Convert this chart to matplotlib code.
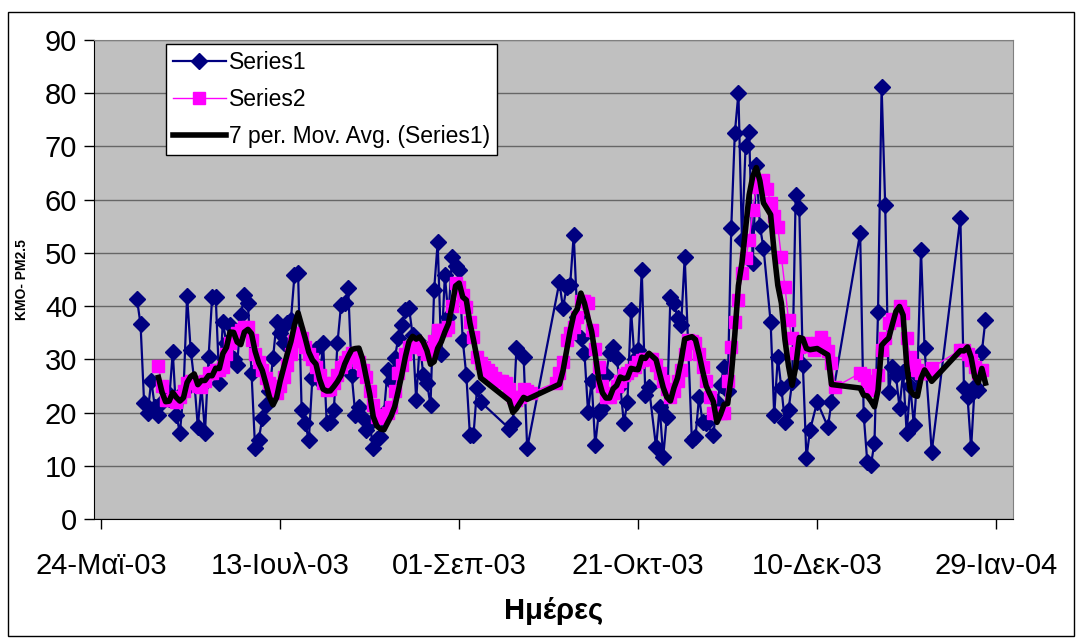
import matplotlib
matplotlib.use('Agg')
import matplotlib.pyplot as plt
from matplotlib.patches import Rectangle
import pandas as pd

plt.rcParams['font.family'] = ['Liberation Sans', 'DejaVu Sans']

# days counted from 24-May-2003
s1_day = [10, 11, 12, 13, 14, 15, 16, 17, 18, 19, 20, 21, 22, 23, 24, 25, 26, 27, 28, 29,
          30, 31, 32, 33, 34, 35, 36, 37, 38, 39, 40, 41, 42, 43, 44, 45, 46, 47, 48, 49,
          50, 51, 52, 53, 54, 55, 56, 57, 58, 59, 60, 61, 62, 63, 64, 65, 66, 67, 68, 69,
          70, 71, 72, 73, 74, 75, 76, 77, 78, 79, 80, 81, 82, 83, 84, 85, 86, 87, 88, 89,
          90, 91, 92, 93, 94, 95, 96, 97, 98, 99, 100, 101, 102, 103, 104, 105, 106,
          114, 115, 116, 118, 119,
          128, 129, 130, 131, 132, 133, 134, 135, 136, 137, 138, 139, 140, 141, 142, 143,
          144, 145, 146, 147, 148, 149, 150, 151, 152, 153, 155, 156, 157, 158, 159, 160,
          161, 162, 163, 165, 166, 167, 168, 169, 171, 172, 173, 174, 175, 176, 177, 178,
          179, 180, 181, 182, 183, 184, 185, 187, 188, 189, 190, 191, 192, 193, 194, 195,
          196, 197, 198, 200, 203, 204,
          212, 213, 214, 215, 216, 217, 218, 219, 220, 221, 222, 223, 224, 225, 226, 227,
          228, 229, 230, 232,
          240, 241, 242, 243, 244, 245, 246, 247]
s1_val = [41.3, 36.6, 21.8, 20, 26, 21, 19.5, 22, 24, 22.5, 31.4, 19.5, 16.2, 24, 41.9, 31.8, 26, 17.3, 25, 16.2,
          30.4, 41.7, 41.7, 25.6, 37, 33, 36.5, 30, 29, 38.3, 42, 40.6, 27.4, 13.3, 14.8, 19, 21.4, 24, 30.2, 37,
          35, 33, 36.8, 37.4, 45.8, 46.2, 20.5, 18, 14.8, 26.5, 32, 26, 33, 18, 18.2, 20.5, 33, 40.2, 40.6, 43.4,
          27, 19.5, 21, 19, 16.7, 18, 13.3, 15, 15.4, 20, 28, 26, 30.2, 34, 36.5, 39.3, 39.6, 34.6, 22.4, 33,
          27, 25.6, 21.4, 43, 52, 31, 45.8, 38, 49.2, 47.5, 46.8, 33.6, 27, 15.8, 15.8, 24.6, 22,
          17, 18, 32.1, 30.4, 13.3,
          44.5, 39.6, 43.6, 44, 53.4, 38, 34, 31.2, 20.1, 26, 13.9, 20, 20.9, 27, 31.2, 32.3,
          30.3, 25, 18, 22, 39.3, 30, 31.8, 46.8, 23.3, 24.8, 13.5, 21, 11.7, 19.2, 41.7, 40.6,
          37.8, 36.5, 49.2, 14.8, 15.4, 22.9, 18.2, 18, 15.8, 22, 25.2, 28.6, 24, 54.7, 72.5, 80,
          52.4, 70, 72.7, 48.1, 66.5, 55, 51, 37, 19.5, 30.4, 24.6, 18.2, 20.5, 25.7, 60.9, 58.4,
          29, 11.5, 16.7, 22, 17.3, 22,
          53.7, 19.5, 10.7, 10.1, 14.3, 38.9, 81.2, 59, 23.9, 28.6, 27, 20.9, 27.6, 16.2, 25, 17.7,
          27, 50.5, 32.1, 12.6,
          56.6, 24.6, 22.9, 13.3, 25, 24.2, 31.4, 37.4]

s2_day = list(range(16, 121)) + list(range(127, 206)) + list(range(212, 233)) + list(range(240, 247))
s2_val = [28.7, 25, 22.4, 22.3, 22.5, 22, 23, 24, 25.5, 26, 25.5, 25, 24.8, 26, 27.4, 27.5, 28, 28, 28.6, 31,   # 16-35
          33, 34, 35, 35.5, 36, 36, 33.6, 31, 29.5, 28, 26.5, 25.5, 24.5, 23.7, 25, 26.7, 29, 31, 33.5, 35,    # 36-55
          34, 32.3, 31, 30, 28.6, 27, 25.5, 24.2, 24.5, 25.5, 27, 28.6, 29.5, 30.5, 31.2, 30.5, 29.5, 28, 26.7, 24,  # 56-75
          21.5, 19.2, 19, 19.5, 20, 21, 24, 27.4, 29, 31, 32.3, 32.5, 32.5, 32.3, 32, 31, 32, 33.5, 35.5, 35.5,  # 76-95
          35.5, 36, 40, 44.3, 43.5, 42, 39.8, 37, 34.2, 30.5, 29.3, 28.5, 28, 27.4, 26.5, 26, 26, 25.6, 24.5, 23,  # 96-115
          22.4, 23, 24.5, 24, 23.7,                                                                             # 116-120
          25.6, 27.5, 29.5, 33.6, 35, 36, 38, 41, 41, 40.5, 35.5, 32, 28.6, 25, 23, 23, 23.7, 25, 26, 27,      # 127-146
          27.5, 28, 28.6, 29.5, 29.9, 30, 30, 30, 29, 27.5, 26, 24.5, 23, 24, 26, 28, 31, 33.6, 33.5, 33,      # 147-166
          31, 28.5, 26, 23, 20, 20, 20, 20, 26, 32.3, 37, 41.1, 46.2, 49, 52.4, 58, 62.4, 63.5, 63.7, 62,      # 167-186
          59.4, 57, 54.9, 49.2, 43.6, 37.4, 34, 31.2, 32.3, 32.5, 33, 32.5, 31.8, 33, 34.2, 33, 31.5, 29.3, 24.8,  # 187-205
          27.4, 27, 26, 24.2, 25.5, 27, 31.8, 34, 36.8, 37.5, 37.4, 40, 38.7, 34, 30.4, 29, 28, 27.5, 27.5, 27.4, 28.4,  # 212-232
          31.8, 31.8, 31, 29.9, 28.5, 27.4, 28]                                                                 # 240-246

tick_days = [0, 50, 100, 150, 200, 250]
tick_labels = ['24-Μαϊ-03', '13-Ιουλ-03', '01-Σεπ-03', '21-Οκτ-03', '10-Δεκ-03', '29-Ιαν-04']

# 7-point trailing moving average of Series1
s1_ma = pd.Series(s1_val).rolling(7).mean()

W, H = 1078, 640
fig = plt.figure(figsize=(W / 100, H / 100), dpi=100)
fig.patches.append(Rectangle((8 / W, 1 - 636 / H), 1066 / W, 624 / H, transform=fig.transFigure,
                             fill=False, edgecolor='black', linewidth=1))
ax = fig.add_axes([94 / W, 1 - 519 / H, (1013 - 94) / W, (519 - 40) / H])
ax.set_facecolor('#C0C0C0')

ax.plot(s1_day, s1_val, color='#000080', lw=1.6, marker='D', ms=8, label='Series1', zorder=3)
ax.plot(s2_day, s2_val, color='#FF00FF', lw=1, marker='s', ms=9, label='Series2', zorder=4)
ax.plot(s1_day, s1_ma, color='black', lw=4, label='7 per. Mov. Avg. (Series1)', zorder=5)

ax.set_ylim(0, 90)
ax.set_yticks(range(0, 91, 10))
ax.set_xlim(-2, 254.7)
ax.set_xticks(tick_days)
ax.set_xticklabels(tick_labels)
ax.grid(axis='y', color='#666666', lw=1)
ax.set_axisbelow(True)
ax.tick_params(axis='both', direction='out', length=7, width=1, labelsize=21, color='black')
ax.tick_params(axis='y', pad=5)
ax.tick_params(axis='x', pad=17)
for side in ['top', 'right']:
    ax.spines[side].set_color('#808080')
for side in ['left', 'bottom']:
    ax.spines[side].set_color('black')

ax.set_xlabel('Ημέρες', fontsize=21, fontweight='bold', labelpad=12)
fig.text(22 / W, 1 - 280 / H, 'KMO- PM2.5', rotation=90, fontsize=10, fontweight='bold',
         ha='center', va='center')

leg = ax.legend(loc='upper left', bbox_to_anchor=((166 - 94) / 919, (519 - 44) / 479),
                fontsize=16.5, frameon=True, fancybox=False, framealpha=1, edgecolor='black',
                borderpad=0.3, handlelength=2.3, handletextpad=0.15, labelspacing=0.62,
                borderaxespad=0)
leg.get_frame().set_linewidth(1)

fig.savefig('out.png', dpi=100)
